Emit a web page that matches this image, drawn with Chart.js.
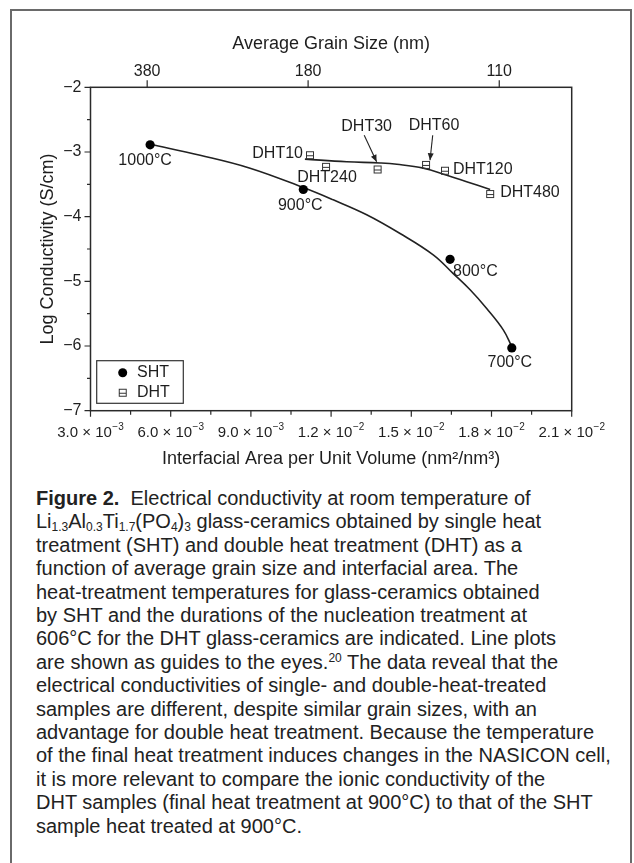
<!DOCTYPE html>
<html><head><meta charset="utf-8">
<script src="https://cdn.jsdelivr.net/npm/chart.js@4.4.0/dist/chart.umd.min.js"></script>
<style>
html,body{margin:0;padding:0;background:#fff;width:634px;height:863px;overflow:hidden;}
#frame{position:absolute;left:10px;top:9px;width:622px;height:900px;border:2px solid #6a6a6a;border-bottom:none;box-sizing:border-box;}
#wrap{position:absolute;left:0;top:0;width:634px;height:480px;}
#caption{position:absolute;left:36px;top:487px;font-family:"Liberation Sans",Arial,Helvetica,sans-serif;font-size:20px;line-height:23.4px;color:#222;white-space:nowrap;}
#caption sub,#caption sup{font-size:0.6em;line-height:0;}
#caption sub{vertical-align:-0.25em;}
#caption sup{vertical-align:0.6em;}
</style></head>
<body>
<div id="frame"></div>
<div id="wrap"><canvas id="c"></canvas></div>
<div id="caption"><b>Figure 2.</b>&nbsp; Electrical conductivity at room temperature of<br>Li<sub>1.3</sub>Al<sub>0.3</sub>Ti<sub>1.7</sub>(PO<sub>4</sub>)<sub>3</sub> glass-ceramics obtained by single heat<br>treatment (SHT) and double heat treatment (DHT) as a<br>function of average grain size and interfacial area. The<br>heat-treatment temperatures for glass-ceramics obtained<br>by SHT and the durations of the nucleation treatment at<br>606°C for the DHT glass-ceramics are indicated. Line plots<br>are shown as guides to the eyes.<sup>20</sup> The data reveal that the<br>electrical conductivities of single- and double-heat-treated<br>samples are different, despite similar grain sizes, with an<br>advantage for double heat treatment. Because the temperature<br>of the final heat treatment induces changes in the NASICON cell,<br>it is more relevant to compare the ionic conductivity of the<br>DHT samples (final heat treatment at 900°C) to that of the SHT<br>sample heat treated at 900°C.</div>
<script>
// ---- data ----
const shtX = [5.23e-3, 10.96e-3, 16.45e-3, 18.76e-3];
const shtY = [-2.89, -3.58, -4.66, -6.03];
const shtLabels = ['1000°C', '900°C', '800°C', '700°C'];

const dhtX = [11.21e-3, 11.81e-3, 13.74e-3, 15.55e-3, 16.26e-3, 17.95e-3];
const dhtY = [-3.05, -3.23, -3.27, -3.20, -3.29, -3.65];
const dhtLabels = ['DHT10', 'DHT240', 'DHT30', 'DHT60', 'DHT120', 'DHT480'];

// guide curves
const shtGuideX = [5.23e-3, 7.10e-3, 8.97e-3, 10.96e-3, 12.08e-3, 13.33e-3, 14.58e-3, 15.82e-3, 16.57e-3, 17.20e-3, 17.82e-3, 18.44e-3, 18.76e-3];
const shtGuideY = [-2.88, -3.05, -3.25, -3.55, -3.74, -3.97, -4.26, -4.59, -4.88, -5.13, -5.42, -5.75, -6.01];
const dhtGuideX = [11.02e-3, 12.58e-3, 13.83e-3, 14.46e-3, 15.45e-3, 16.33e-3, 17.07e-3, 17.95e-3];
const dhtGuideY = [-3.11, -3.15, -3.17, -3.19, -3.25, -3.36, -3.46, -3.58];

const legendLabels = ['SHT', 'DHT'];

// axes
const yTicks = [-2, -3, -4, -5, -6, -7];
const yTickLabels = ['−2', '−3', '−4', '−5', '−6', '−7'];
const yMinorTicks = [-2.5, -3.5, -4.5, -5.5, -6.5];
const xTicks = [3e-3, 6e-3, 9e-3, 12e-3, 15e-3, 18e-3, 21e-3];
const xTickMant = ['3.0', '6.0', '9.0', '1.2', '1.5', '1.8', '2.1'];
const xTickExp = ['−3', '−3', '−3', '−2', '−2', '−2', '−2'];
const xMinorTicks = [4.5e-3, 7.5e-3, 10.5e-3, 13.5e-3, 16.5e-3, 19.5e-3];
const grainTicks = [5.12e-3, 11.14e-3, 18.29e-3];
const grainLabels = ['380', '180', '110'];

// ---- styles ----
const FONT = '"Liberation Sans", Arial, Helvetica, sans-serif';
const INK = '#1e1e1e';
// label placement relative to marker (px)
const shtLabelPos = [
  {dx: -5, dy: 16, align: 'center'},
  {dx: -3, dy: 16, align: 'center'},
  {dx: 3, dy: 12, align: 'left'},
  {dx: -2, dy: 15, align: 'center'}
];
const dhtLabelPos = [
  {dx: -7, dy: -2, align: 'right'},
  {dx: 1, dy: 11, align: 'center'},
  {dx: -11, dy: -43, align: 'center', arrow: [-13.4, -34.3, -1, -7.6]},
  {dx: 8, dy: -39, align: 'center', arrow: [6.7, -29.7, 4, -4.7]},
  {dx: 8, dy: -1, align: 'left'},
  {dx: 10, dy: -1, align: 'left'}
];

function makeDhtMarker() {
  const c = document.createElement('canvas');
  c.width = 10; c.height = 10;
  const g = c.getContext('2d');
  g.strokeStyle = '#333'; g.lineWidth = 1;
  g.strokeRect(1.5, 1.5, 7, 7);
  g.beginPath(); g.moveTo(1.5, 5.5); g.lineTo(8.5, 5.5); g.stroke();
  return c;
}
const dhtMarker = makeDhtMarker();

const zip = (xs, ys) => xs.map((v, i) => ({x: v, y: ys[i]}));

const customDraw = {
  id: 'customDraw',
  afterDraw(chart) {
    const {ctx, chartArea: a, scales: {x, y}} = chart;
    ctx.save();
    // plot frame
    ctx.strokeStyle = '#2a2a2a'; ctx.lineWidth = 1.5;
    ctx.strokeRect(a.left, a.top, a.right - a.left, a.bottom - a.top);
    // ticks
    ctx.lineWidth = 1.2;
    ctx.beginPath();
    yTicks.forEach(v => { const p = y.getPixelForValue(v); ctx.moveTo(a.left - 6, p); ctx.lineTo(a.left, p); });
    yMinorTicks.forEach(v => { const p = y.getPixelForValue(v); ctx.moveTo(a.left - 3.5, p); ctx.lineTo(a.left, p); });
    xTicks.forEach(v => { const p = x.getPixelForValue(v); ctx.moveTo(p, a.bottom); ctx.lineTo(p, a.bottom + 6); });
    xMinorTicks.forEach(v => { const p = x.getPixelForValue(v); ctx.moveTo(p, a.bottom); ctx.lineTo(p, a.bottom + 4); });
    grainTicks.forEach(v => { const p = x.getPixelForValue(v); ctx.moveTo(p, a.top); ctx.lineTo(p, a.top - 7); });
    ctx.stroke();
    // tick labels
    ctx.fillStyle = INK;
    ctx.font = `16px ${FONT}`;
    ctx.textAlign = 'right'; ctx.textBaseline = 'middle';
    yTicks.forEach((v, i) => ctx.fillText(yTickLabels[i], a.left - 9, y.getPixelForValue(v)));
    ctx.textAlign = 'center'; ctx.textBaseline = 'alphabetic';
    grainTicks.forEach((v, i) => ctx.fillText(grainLabels[i], x.getPixelForValue(v), a.top - 11.5));
    ctx.textAlign = 'left';
    xTicks.forEach((v, i) => {
      const p = x.getPixelForValue(v);
      const main = xTickMant[i] + ' × 10';
      ctx.font = `15px ${FONT}`; const w1 = ctx.measureText(main).width;
      ctx.font = `10px ${FONT}`; const w2 = ctx.measureText(xTickExp[i]).width;
      const s = p - (w1 + w2 + 0.5) / 2;
      ctx.font = `15px ${FONT}`; ctx.fillText(main, s, a.bottom + 26.5);
      ctx.font = `10px ${FONT}`; ctx.fillText(xTickExp[i], s + w1 + 0.5, a.bottom + 19.5);
    });
    // point annotations
    ctx.font = `16px ${FONT}`; ctx.textBaseline = 'middle';
    const annotate = (xs, ys, labels, pos) => {
      labels.forEach((t, i) => {
        const px = x.getPixelForValue(xs[i]), py = y.getPixelForValue(ys[i]);
        const o = pos[i];
        ctx.textAlign = o.align;
        ctx.fillText(t, px + o.dx, py + o.dy);
        if (o.arrow) {
          const [x0, y0, x1, y1] = o.arrow;
          const sx = px + x0, sy = py + y0, ex = px + x1, ey = py + y1;
          ctx.strokeStyle = '#222'; ctx.lineWidth = 1.1;
          ctx.beginPath(); ctx.moveTo(sx, sy); ctx.lineTo(ex, ey); ctx.stroke();
          const ang = Math.atan2(ey - sy, ex - sx), L = 7, W = 3;
          ctx.beginPath();
          ctx.moveTo(ex, ey);
          ctx.lineTo(ex - L * Math.cos(ang) + W * Math.sin(ang), ey - L * Math.sin(ang) - W * Math.cos(ang));
          ctx.lineTo(ex - L * Math.cos(ang) - W * Math.sin(ang), ey - L * Math.sin(ang) + W * Math.cos(ang));
          ctx.closePath(); ctx.fillStyle = '#222'; ctx.fill(); ctx.fillStyle = INK;
        }
      });
    };
    annotate(shtX, shtY, shtLabels, shtLabelPos);
    annotate(dhtX, dhtY, dhtLabels, dhtLabelPos);
    // legend
    const lx = a.left + 6.2, ly = a.bottom - 50, lw = 86.6, lh = 42.6;
    ctx.strokeStyle = '#333'; ctx.lineWidth = 1.2;
    ctx.strokeRect(lx, ly, lw, lh);
    ctx.beginPath(); ctx.arc(lx + 26, ly + 12, 4.5, 0, Math.PI * 2); ctx.fillStyle = '#000'; ctx.fill();
    ctx.drawImage(dhtMarker, lx + 21, ly + 27);
    ctx.fillStyle = INK; ctx.textAlign = 'left'; ctx.textBaseline = 'middle'; ctx.font = `16px ${FONT}`;
    ctx.fillText(legendLabels[0], lx + 40.3, ly + 12);
    ctx.fillText(legendLabels[1], lx + 40.3, ly + 32);
    ctx.restore();
  }
};

new Chart(document.getElementById('c'), {
  type: 'scatter',
  data: {
    datasets: [
      {label: legendLabels[0], data: zip(shtX, shtY), pointStyle: 'circle', pointRadius: 4.6, backgroundColor: '#000', borderColor: '#000', borderWidth: 0},
      {label: legendLabels[1], data: zip(dhtX, dhtY), pointStyle: dhtMarker, pointRadius: 5},
      {label: 'SHT guide', data: zip(shtGuideX, shtGuideY), showLine: true, tension: 0.4, pointRadius: 0, borderColor: '#222', borderWidth: 1.6, fill: false},
      {label: 'DHT guide', data: zip(dhtGuideX, dhtGuideY), showLine: true, tension: 0.4, pointRadius: 0, borderColor: '#222', borderWidth: 1.6, fill: false}
    ]
  },
  options: {
    responsive: true, maintainAspectRatio: false, animation: false,
    layout: {padding: {left: 0, right: 62.3, top: 0, bottom: 0}},
    plugins: {legend: {display: false}, tooltip: {enabled: false}},
    scales: {
      x: {
        type: 'linear', position: 'bottom', min: 3e-3, max: 21e-3,
        grid: {display: false}, border: {display: false}, ticks: {display: false},
        title: {display: true, text: 'Interfacial Area per Unit Volume (nm²/nm³)', color: INK, font: {family: FONT, size: 18}, padding: {top: 0, bottom: 10.4}},
        afterFit(s) { s.height = 69.3; }
      },
      x2: {
        type: 'linear', position: 'top', min: 3e-3, max: 21e-3,
        grid: {display: false}, border: {display: false}, ticks: {display: false},
        title: {display: true, text: 'Average Grain Size (nm)', color: INK, font: {family: FONT, size: 18}, padding: {top: 33.4, bottom: 0}},
        afterFit(s) { s.height = 87.3; }
      },
      y: {
        type: 'linear', min: -7, max: -2,
        grid: {display: false}, border: {display: false}, ticks: {display: false},
        title: {display: true, text: 'Log Conductivity (S/cm)', color: INK, font: {family: FONT, size: 18}, padding: {top: 37, bottom: 0}},
        afterFit(s) { s.width = 90.5; }
      }
    }
  },
  plugins: [customDraw]
});
</script>
</body></html>
